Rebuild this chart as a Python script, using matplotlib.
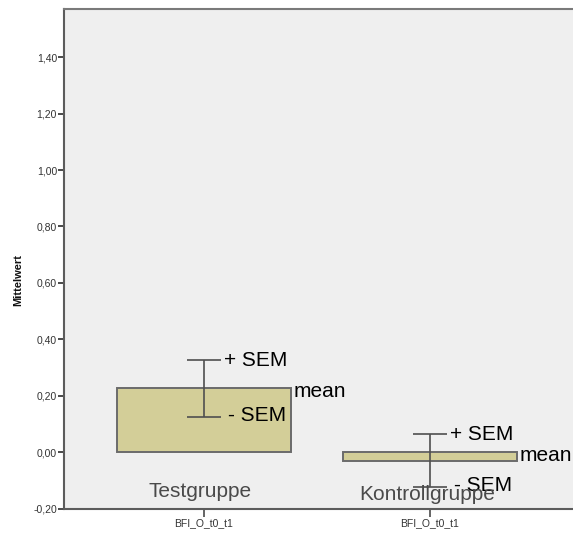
import matplotlib
matplotlib.use("Agg")
import matplotlib.pyplot as plt
from matplotlib.ticker import FuncFormatter

# Data
groups = ["Testgruppe", "Kontrollgruppe"]
variable = ["BFI_O_t0_t1", "BFI_O_t0_t1"]
means = [0.226, -0.031]
sem = [0.100, 0.094]

y_ticks = [-0.2, 0.0, 0.2, 0.4, 0.6, 0.8, 1.0, 1.2, 1.4]

plt.rcParams["font.family"] = ["Liberation Sans", "DejaVu Sans"]
narrow = ["Liberation Sans Narrow", "Liberation Sans", "DejaVu Sans"]

fig = plt.figure(figsize=(5.73, 5.33), dpi=100)
ax = fig.add_axes([64 / 573, 24.5 / 533, 1 - 64 / 573, 499.5 / 533])
ax.set_facecolor("#efefef")

x = list(range(len(groups)))
ax.bar(x, means, width=0.77, color="#d3ce98", edgecolor="#6b6b6b", linewidth=1.4, zorder=2)
ax.errorbar(x, means, yerr=sem, fmt="none", ecolor="#4f4f4f", elinewidth=1.2,
            capsize=12, capthick=1.2, zorder=3)

# Annotations next to each bar
for xi, m, s in zip(x, means, sem):
    ax.text(xi + 0.09, m + s, "+ SEM", fontsize=15, va="center", ha="left", color="black", zorder=4)
    ax.text(xi + 0.105, m - s + 0.005, "- SEM", fontsize=15, va="center", ha="left", color="black", zorder=4)
    ax.text(xi + 0.395, m - 0.01 if m > 0 else m + 0.018, "mean", fontsize=15, va="center",
            ha="left", color="black", zorder=4)

ax.text(x[0] - 0.016, -0.138, groups[0], fontsize=15, ha="center", va="center", color="#4a4a4a", zorder=4)
ax.text(x[1] - 0.013, -0.152, groups[1], fontsize=15, ha="center", va="center", color="#4a4a4a", zorder=4)

ax.set_xlim(-0.619, 1.633)
ax.set_ylim(-0.2, 1.571)
ax.set_yticks(y_ticks)
ax.yaxis.set_major_formatter(FuncFormatter(lambda v, p: f"{v:.2f}".replace(".", ",")))
ax.set_xticks(x)
ax.set_xticklabels(variable)
for lab in ax.get_xticklabels() + ax.get_yticklabels():
    lab.set_family(narrow)

for side in ["left", "bottom", "top"]:
    ax.spines[side].set_color("#5c5c5c")
    ax.spines[side].set_linewidth(1.5)
ax.spines["top"].set_color("#7a7a7a")
ax.spines["right"].set_visible(False)

ax.tick_params(axis="y", direction="out", length=4, width=1.4, color="#4a4a4a",
               labelsize=7.5, labelcolor="#333333", pad=1)
ax.tick_params(axis="x", direction="out", length=6, width=1.2, color="#4a4a4a",
               labelsize=7.5, labelcolor="#333333", pad=1)

fig.text(18 / 573, 1 - 280 / 533, "Mittelwert", rotation=90, fontsize=8, fontweight="bold",
         ha="center", va="center", color="#111111")

fig.savefig("out.png", dpi=100, facecolor="white")
